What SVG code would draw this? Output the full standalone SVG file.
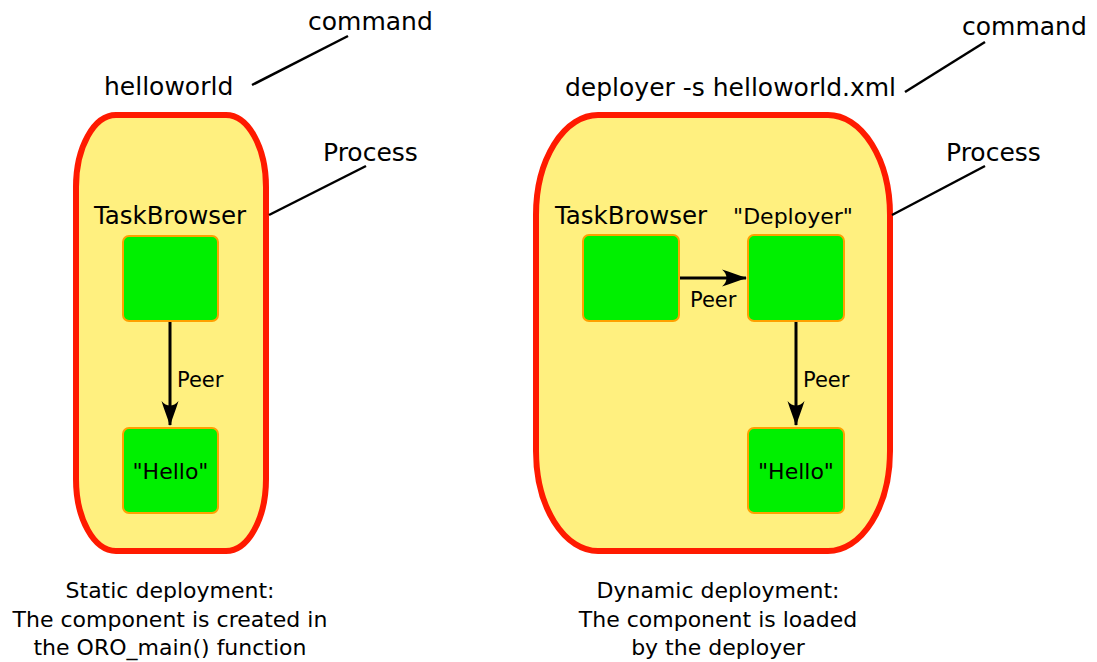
<svg xmlns="http://www.w3.org/2000/svg" width="1097" height="662" viewBox="0 0 1097 662">
<defs>
<style>
text{font-family:"DejaVu Sans","Liberation Sans",sans-serif;fill:#000}
.proc{fill:#fff07f;stroke:#ff1a00;stroke-width:6}
.comp{fill:#00f000;stroke:#ffa000;stroke-width:2}
.lead{stroke:#000;stroke-width:2.5;fill:none}
.conn{stroke:#000;stroke-width:3;fill:none;marker-end:url(#ah)}
.big{font-size:25px}
.lbl{font-size:24.5px}
.mid{font-size:22px}
.peer{font-size:21px}
</style>
<marker id="ah" markerUnits="userSpaceOnUse" markerWidth="40" markerHeight="40" refX="0" refY="0" viewBox="-30 -20 40 40" orient="auto" overflow="visible">
<path d="M1,0 C-7,-2.5 -16,-6 -24,-8.5 C-18,-3.5 -18,3.5 -24,8.5 C-16,6 -7,2.5 1,0 Z" fill="#000"/>
</marker>
</defs>
<rect width="1097" height="662" fill="#fff"/>

<g id="left-process">
<rect class="proc" x="76" y="115" width="190" height="436" rx="40" ry="72"/>
</g>
<g id="right-process">
<rect class="proc" x="536" y="115" width="354" height="436" rx="62" ry="100"/>
</g>

<g id="left-taskbrowser">
<text class="lbl" x="170" y="224" text-anchor="middle">TaskBrowser</text>
<rect class="comp" x="123" y="236" width="95" height="85" rx="6"/>
</g>
<g id="left-hello">
<rect class="comp" x="123" y="428" width="95" height="85" rx="6"/>
<text class="mid" x="170.5" y="479" text-anchor="middle">"Hello"</text>
</g>

<g id="right-taskbrowser">
<text class="lbl" x="631" y="224" text-anchor="middle">TaskBrowser</text>
<rect class="comp" x="583" y="235" width="96" height="86" rx="6"/>
</g>
<g id="right-deployer">
<text class="mid" x="793" y="224" text-anchor="middle">"Deployer"</text>
<rect class="comp" x="748" y="235" width="96" height="86" rx="6"/>
</g>
<g id="right-hello">
<rect class="comp" x="748" y="428" width="96" height="85" rx="6"/>
<text class="mid" x="796" y="479" text-anchor="middle">"Hello"</text>
</g>

<g id="annotations">
<text class="big" x="104" y="95">helloworld</text>
<text class="big" x="308" y="30">command</text>
<text class="big" x="323" y="161">Process</text>
<text class="big" x="565" y="96">deployer -s helloworld.xml</text>
<text class="big" x="962" y="35">command</text>
<text class="big" x="946" y="161">Process</text>
</g>

<g id="captions" class="mid" text-anchor="middle">
<text x="170" y="598">Static deployment:</text>
<text x="170" y="627">The component is created in</text>
<text x="170" y="655">the ORO_main() function</text>
<text x="718" y="598">Dynamic deployment:</text>
<text x="718" y="627">The component is loaded</text>
<text x="718" y="655">by the deployer</text>
</g>

<g id="connectors">
<line class="lead" x1="348" y1="36" x2="252" y2="85"/>
<line class="lead" x1="985" y1="42" x2="905" y2="92"/>
<line class="lead" x1="366" y1="166" x2="269" y2="215"/>
<line class="lead" x1="985" y1="166" x2="892" y2="215"/>
<line class="conn" x1="170" y1="322" x2="170" y2="425"/>
<line class="conn" x1="680" y1="278" x2="746" y2="278"/>
<line class="conn" x1="796" y1="322" x2="796" y2="425"/>
<text class="peer" x="177" y="387">Peer</text>
<text class="peer" x="690" y="307">Peer</text>
<text class="peer" x="803" y="387">Peer</text>
</g>
</svg>
